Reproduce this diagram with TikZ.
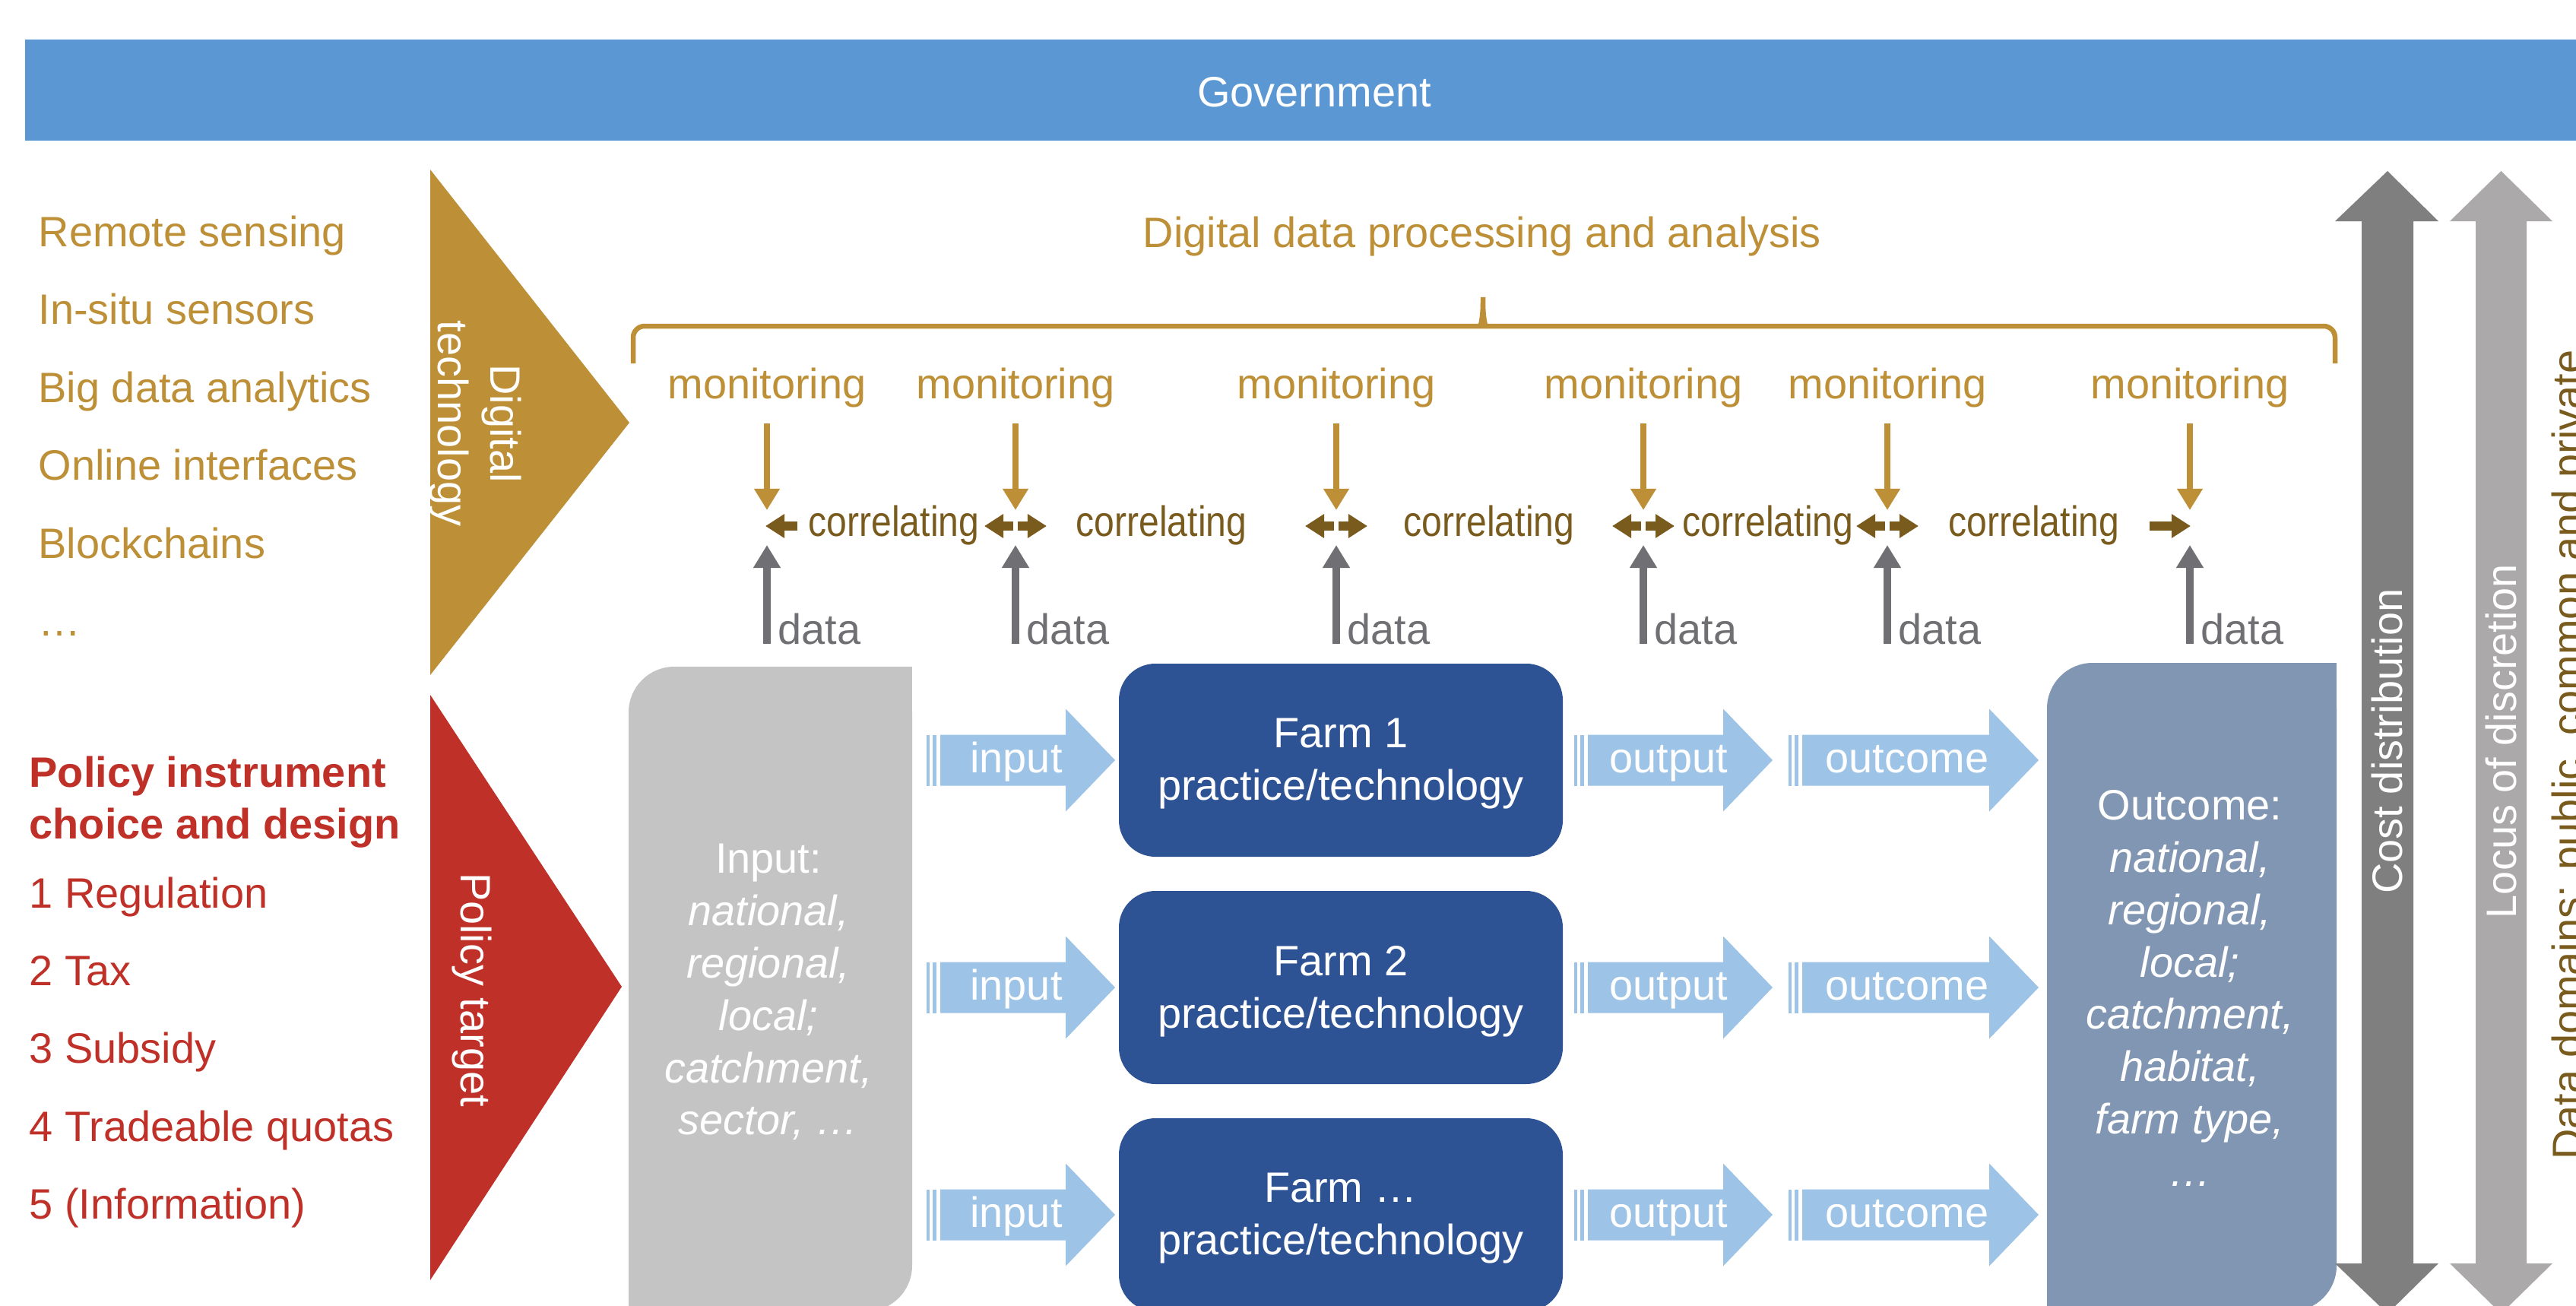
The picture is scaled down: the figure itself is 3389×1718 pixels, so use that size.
\documentclass[tikz,border=0pt]{standalone}
\usepackage{fontspec}
\setmainfont{Liberation Sans}
\usetikzlibrary{arrows.meta}
\definecolor{govblue}{RGB}{90,151,211}
\definecolor{gold}{RGB}{189,144,56}
\definecolor{darkgold}{RGB}{122,91,30}
\definecolor{polred}{RGB}{191,49,40}
\definecolor{datagray}{RGB}{112,112,116}
\definecolor{inputgray}{RGB}{196,196,196}
\definecolor{farmblue}{RGB}{46,83,149}
\definecolor{lightblue}{RGB}{157,195,230}
\definecolor{outblue}{RGB}{129,150,178}
\definecolor{darkarrow}{RGB}{127,127,127}
\definecolor{lightarrow}{RGB}{171,169,169}
\newcommand{\fsz}{\fontsize{15.9}{19.6}\selectfont}
\newcommand{\corr}{\scalebox{0.86}[1]{correlating}}
\newcommand{\stripearrow}[3]{%
  \fill[lightblue] (#1,{#3-33.5}) rectangle ({#1+4},{#3+33.5});
  \fill[lightblue] ({#1+8},{#3-33.5}) rectangle ({#1+13},{#3+33.5});
  \fill[lightblue] ({#1+18},{#3-33.5}) -- ({#2-65},{#3-33.5}) -- ({#2-65},{#3-67.5}) -- (#2,#3) -- ({#2-65},{#3+67.5}) -- ({#2-65},{#3+33.5}) -- ({#1+18},{#3+33.5}) -- cycle;
}
\begin{document}
\begin{tikzpicture}[x=0.01cm,y=-0.01cm,
  txt/.style={inner sep=0pt, font=\fsz},
  techtxt/.style={txt, text=gold, anchor=base west},
  poltxt/.style={txt, text=polred, anchor=base west},
  montxt/.style={txt, text=gold, anchor=base},
  cortxt/.style={txt, text=darkgold, anchor=base},
  dattxt/.style={txt, text=datagray, anchor=base west},
  whitetxt/.style={txt, text=white},
  monarrow/.style={draw=gold, line width=0.085cm, -{Triangle[length=0.28cm,width=0.32cm]}},
  dataarrow/.style={draw=datagray, line width=0.10cm, -{Triangle[length=0.30cm,width=0.34cm]}},
  corrarrow/.style={draw=darkgold, line width=0.12cm, -{Triangle[length=0.25cm,width=0.30cm]}},
  bracestyle/.style={draw=gold, line width=0.065cm, rounded corners=0.15cm}
]
\useasboundingbox (0,0) rectangle (3389,1718);
\clip (0,0) rectangle (3389,1718);
\fill[white] (0,0) rectangle (3389,1718);

% Government bar
\fill[govblue] (33,52) rectangle (3400,185);
\node[whitetxt, anchor=base] (gov) at (1729,140) {Government};

% left lists
\node[techtxt] (t1) at (50,324) {Remote sensing};
\node[techtxt] (t2) at (50,426) {In-situ sensors};
\node[techtxt] (t3) at (50,529) {Big data analytics};
\node[techtxt] (t4) at (50,631) {Online interfaces};
\node[techtxt] (t5) at (50,734) {Blockchains};
\node[techtxt] (t6) at (50,836) {…};

\node[txt, text=polred, anchor=north west, align=left, font=\fontsize{15.9}{19.3}\selectfont\bfseries] (p0) at (38,994) {Policy instrument\\choice and design};
\node[poltxt] (p1) at (38,1194) {1 Regulation};
\node[poltxt] (p2) at (38,1296) {2 Tax};
\node[poltxt] (p3) at (38,1398) {3 Subsidy};
\node[poltxt] (p4) at (38,1501) {4 Tradeable quotas};
\node[poltxt] (p5) at (38,1603) {5 (Information)};

% triangles
\fill[gold] (566,223) -- (828,556) -- (566,888) -- cycle;
\node[whitetxt, rotate=-90, align=center] (dt) at (625,557) {Digital\\technology};
\fill[polred] (566,914) -- (818,1298) -- (566,1684) -- cycle;
\node[whitetxt, rotate=-90, anchor=base] (pt) at (606,1302) {Policy target};

% brace and heading
\node[txt, text=gold, anchor=base] (ddp) at (1950,325) {Digital data processing and analysis};
\draw[bracestyle] (833,478) -- (833,429) -- (1933,429)
  .. controls (1947,429) and (1951,422) .. (1951,382)
  .. controls (1951,422) and (1955,429) .. (1969,429) -- (3072,429) -- (3072,478);

% monitoring / data columns
\foreach \i/\x in {1/1009,2/1336,3/1758,4/2162,5/2483,6/2881} {
  \node[montxt] (m\i) at (\x,524) {monitoring};
  \node[dattxt] (d\i) at ({\x+14},847) {data};
  \coordinate (mt\i) at (\x,557);
  \coordinate (mb\i) at (\x,671);
  \coordinate (dtop\i) at (\x,717);
  \coordinate (dbot\i) at (\x,847);
  \draw[monarrow] (mt\i) -- (mb\i);
  \draw[dataarrow] (dbot\i) -- (dtop\i);
}

% correlating
\node[cortxt] (c1) at (1176,705) {\corr};
\node[cortxt] (c2) at (1528,705) {\corr};
\node[cortxt] (c3) at (1959,705) {\corr};
\node[cortxt] (c4) at (2326,705) {\corr};
\node[cortxt] (c5) at (2676,705) {\corr};
\coordinate (a1s) at (1049,692); \coordinate (a1e) at (1007,692);
\draw[corrarrow] (a1s) -- (a1e);
\foreach \x in {1336,1758,2162,2483} {
  \draw[corrarrow] ({\x-3},692) -- ({\x-41},692);
  \draw[corrarrow] ({\x+3},692) -- ({\x+41},692);
}
\coordinate (a6s) at (2828,692); \coordinate (a6e) at (2882,692);
\draw[corrarrow] (a6s) -- (a6e);

% input box
\fill[inputgray, rounded corners=0.6cm] (827,877) rectangle (1200,1725);
\fill[inputgray] (1130,877) rectangle (1200,950);
\fill[inputgray] (827,1650) rectangle (900,1725);
\node[whitetxt, align=center] (inbox) at (1011,1305) {Input:\\\textit{national,}\\\textit{regional,}\\\textit{local;}\\\textit{catchment,}\\\textit{sector, …}};

% outcome box
\fill[outblue, rounded corners=0.6cm] (2693,872) rectangle (3074,1725);
\fill[outblue] (3000,872) rectangle (3074,950);
\fill[outblue] (2693,1650) rectangle (2770,1725);
\node[whitetxt, align=center] (outbox) at (2881,1300) {Outcome:\\\textit{national,}\\\textit{regional,}\\\textit{local;}\\\textit{catchment,}\\\textit{habitat,}\\\textit{farm type,}\\\textit{…}};

% farm boxes
\fill[farmblue, rounded corners=0.48cm] (1472,873) rectangle (2056,1127);
\fill[farmblue, rounded corners=0.48cm] (1472,1172) rectangle (2056,1426);
\fill[farmblue, rounded corners=0.48cm] (1472,1471) rectangle (2056,1725);
\node[whitetxt, align=center] (f1) at (1764,1005) {Farm 1\\practice/technology};
\node[whitetxt, align=center] (f2) at (1764,1304) {Farm 2\\practice/technology};
\node[whitetxt, align=center] (f3) at (1764,1603) {Farm …\\practice/technology};

% striped arrows
\foreach \y in {1000,1299,1598} {
  \stripearrow{1219}{1467}{\y}
  \stripearrow{2071}{2332}{\y}
  \stripearrow{2353}{2682}{\y}
  \node[whitetxt, anchor=base] at (1337,{\y+16}) {input};
  \node[whitetxt, anchor=base] at (2195,{\y+16}) {output};
  \node[whitetxt, anchor=base] at (2509,{\y+16}) {outcome};
}

% vertical double arrows
\fill[darkarrow] (3141,225) -- (3208,291) -- (3175,291) -- (3175,1662) -- (3208,1662) -- (3141,1728) -- (3072,1662) -- (3107,1662) -- (3107,291) -- (3072,291) -- cycle;
\fill[lightarrow] (3290.5,225) -- (3358,291) -- (3324,291) -- (3324,1662) -- (3358,1662) -- (3290.5,1728) -- (3223,1662) -- (3257,1662) -- (3257,291) -- (3223,291) -- cycle;
\node[whitetxt, rotate=90, anchor=base] (cost) at (3160,975) {Cost distribution};
\node[whitetxt, rotate=90, anchor=base] (locus) at (3310,975) {Locus of discretion};
\node[txt, text=darkgold, rotate=90, anchor=base] (dd) at (3397,993) {Data domains: public, common and private};
\end{tikzpicture}
\end{document}
